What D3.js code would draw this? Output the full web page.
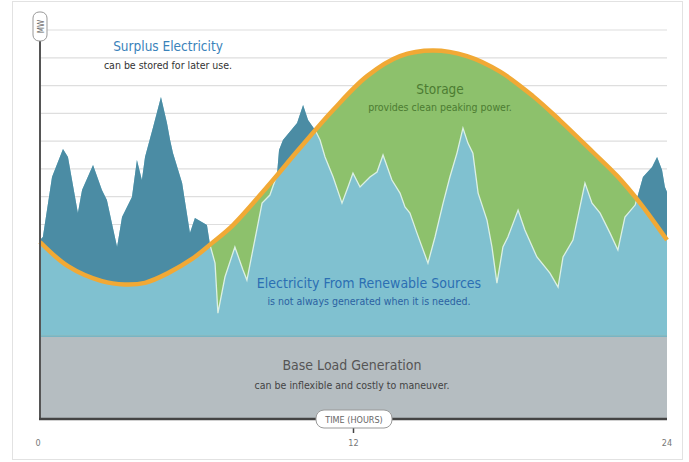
<!DOCTYPE html>
<html lang="en">
<head>
<meta charset="UTF-8">
<title>Renewables, Storage and Demand</title>
<style>
  * { margin: 0; padding: 0; }
  body { background: #fff; width: 689px; height: 462px; overflow: hidden; }
  svg { display: block; font-family: "DejaVu Sans Condensed", "DejaVu Sans", sans-serif; }
</style>
</head>
<body>
<svg id="chart" width="689" height="462"></svg>
<script src="https://d3js.org/d3.v7.min.js"></script>
<script>
// Hours across the day
const xTicks = [0, 12, 24];
const gridMW = [30, 40, 50, 60, 70, 80, 90, 100, 110, 120, 130, 140];
const baseMW = 30;

// Demand (orange curve)
const demandHours = [0, 1.07, 2.37, 3.25, 4.02, 4.9, 5.82, 6.58, 7.39, 8.69, 9.95, 11.22, 12.52, 13.78, 15.04, 16.34, 17.61, 18.87, 19.9, 21.17, 22.09, 22.97, 24];
const demandMW = [63.7, 55.0, 49.6, 48.4, 49.0, 52.5, 57.6, 63.3, 69.8, 83.5, 97.5, 111.2, 123.4, 130.6, 132.6, 130.6, 125.0, 116.2, 107.5, 96.0, 87.5, 77.7, 64.4];

// Renewable generation
const renewHours = [0, 0.11, 0.46, 0.88, 1.07, 1.45, 1.61, 2.03, 2.37, 2.56, 2.95, 3.14, 3.52, 3.71, 3.9, 4.02, 4.33, 4.63, 4.86, 4.98, 5.09, 5.44, 5.74, 5.93, 6.39, 6.51, 6.7, 6.81, 7.08, 7.46, 7.77, 7.92, 8.5, 8.8, 9.07, 9.15, 9.3, 9.84, 10.07, 10.26, 10.53, 10.72, 10.91, 11.22, 11.56, 11.79, 11.98, 12.25, 12.63, 12.9, 13.13, 13.47, 13.78, 13.97, 14.16, 14.43, 14.85, 15.12, 15.43, 15.69, 15.96, 16.19, 16.38, 16.57, 16.77, 17.11, 17.3, 17.49, 17.72, 17.91, 18.3, 18.56, 19.02, 19.52, 19.83, 20.02, 20.4, 20.86, 21.13, 21.44, 21.82, 22.12, 22.39, 22.78, 23.08, 23.43, 23.62, 23.81, 23.92, 24];
const renewMW = [64.4, 65.5, 87.1, 97.2, 94.3, 74.1, 82.4, 91.4, 82.4, 78.8, 61.9, 72.7, 79.9, 93.2, 86.0, 94.3, 105.1, 115.9, 106.5, 100.4, 95.7, 84.9, 66.9, 72.3, 69.8, 62.6, 56.1, 38.1, 51.1, 61.9, 53.6, 50.0, 77.7, 80.6, 87.8, 96.8, 100.4, 106.5, 113.0, 107.6, 104.0, 100.4, 94.3, 87.1, 77.7, 83.5, 88.5, 83.5, 87.1, 88.9, 95.0, 86.0, 81.3, 76.3, 74.1, 66.9, 56.1, 65.5, 77.7, 87.1, 95.7, 104.7, 99.3, 95.7, 81.3, 71.6, 61.9, 48.9, 61.9, 65.5, 75.2, 68.0, 58.3, 52.5, 47.5, 58.3, 64.4, 84.9, 77.7, 74.1, 66.9, 60.8, 72.7, 77.0, 87.1, 90.7, 94.3, 89.6, 83.5, 81.7];

const demand = demandHours.map((h, i) => ({ h, v: demandMW[i] }));
const renew = renewHours.map((h, i) => ({ h, v: renewMW[i] }));

const svg = d3.select('#chart');
const x = d3.scaleLinear().domain([0, 24]).range([40, 667]);
const y = d3.scaleLinear().domain([0, 140]).range([419, 30]);

// outer frame
svg.append('rect').attr('x', 12.5).attr('y', 1.5).attr('width', 670).attr('height', 458)
  .attr('fill', 'none').attr('stroke', '#e2e2e2');

// gridlines
svg.append('g').selectAll('line').data(gridMW).join('line')
  .attr('x1', x(0)).attr('x2', x(24))
  .attr('y1', d => y(d)).attr('y2', d => y(d))
  .attr('stroke', '#dedede').attr('stroke-width', 1.2);

const demandCurve = d3.curveCatmullRom.alpha(0.5);
const defs = svg.append('defs');

// region above the demand curve
defs.append('clipPath').attr('id', 'above').append('path')
  .attr('d', d3.area().curve(demandCurve).x(d => x(d.h)).y0(0).y1(d => y(d.v))(demand));
// region below the demand curve
defs.append('clipPath').attr('id', 'below').append('path')
  .attr('d', d3.area().curve(demandCurve).x(d => x(d.h)).y0(y(0)).y1(d => y(d.v))(demand));

// storage (green) up to demand
svg.append('path')
  .attr('d', d3.area().curve(demandCurve).x(d => x(d.h)).y0(y(baseMW)).y1(d => y(d.v))(demand))
  .attr('fill', '#8dc16c');

// renewables
const renewArea = d3.area().x(d => x(d.h)).y0(y(baseMW)).y1(d => y(d.v));
svg.append('path').attr('d', renewArea(renew)).attr('fill', '#80c1d0');
svg.append('path').attr('d', renewArea(renew)).attr('fill', '#4b8ca4')
  .attr('clip-path', 'url(#above)');
svg.append('path').attr('d', d3.line().x(d => x(d.h)).y(d => y(d.v))(renew))
  .attr('fill', 'none').attr('stroke', '#dcf0e4').attr('stroke-width', 1.3)
  .attr('clip-path', 'url(#below)');

// base load
svg.append('path')
  .attr('d', d3.area().x(d => x(d)).y0(y(0)).y1(y(baseMW))([0, 24]))
  .attr('fill', '#b5bdc1');
svg.append('line').attr('x1', x(0)).attr('x2', x(24)).attr('y1', y(baseMW) + 0.5).attr('y2', y(baseMW) + 0.5)
  .attr('stroke', '#79b4c3').attr('stroke-width', 1.5);

// demand line
svg.append('path').attr('d', d3.line().curve(demandCurve).x(d => x(d.h)).y(d => y(d.v))(demand))
  .attr('fill', 'none').attr('stroke', '#f1a935').attr('stroke-width', 4.5);

// axes
svg.append('line').attr('x1', x(0)).attr('x2', x(0)).attr('y1', 38).attr('y2', y(0))
  .attr('stroke', '#555').attr('stroke-width', 2);
svg.append('line').attr('x1', x(0) - 1).attr('x2', x(24)).attr('y1', y(0)).attr('y2', y(0))
  .attr('stroke', '#444').attr('stroke-width', 2.5);

// y label box
svg.append('rect').attr('x', 33).attr('y', 12).attr('width', 14).attr('height', 29).attr('rx', 6)
  .attr('fill', '#fff').attr('stroke', '#999');
svg.append('text').attr('transform', 'translate(43.5,26.5) rotate(-90)')
  .attr('text-anchor', 'middle').attr('font-size', 8).attr('fill', '#666').text('MW');

// x axis label box and ticks
svg.append('line').attr('x1', x(12)).attr('x2', x(12)).attr('y1', 426).attr('y2', 433)
  .attr('stroke', '#444').attr('stroke-width', 1.5);
svg.append('rect').attr('x', 316).attr('y', 410).attr('width', 76).attr('height', 18).attr('rx', 8)
  .attr('fill', '#fff').attr('stroke', '#999');
svg.append('text').attr('x', 354).attr('y', 423).attr('text-anchor', 'middle')
  .attr('font-size', 9).attr('fill', '#666').text('TIME (HOURS)');
svg.append('g').selectAll('text').data(xTicks).join('text')
  .attr('x', d => x(d) - (d === 0 ? 2 : 0)).attr('y', 446).attr('text-anchor', 'middle')
  .attr('font-size', 9).attr('fill', '#777').text(d => d);

// annotations
const notes = [
  { x: 168, y: 51, t: 'Surplus Electricity', size: 13.5, fill: '#3a82ba' },
  { x: 168, y: 69, t: 'can be stored for later use.', size: 10.5, fill: '#333' },
  { x: 440, y: 94, t: 'Storage', size: 13.5, fill: '#4c7c32' },
  { x: 440, y: 111, t: 'provides clean peaking power.', size: 10.5, fill: '#4c7c32' },
  { x: 369, y: 288, t: 'Electricity From Renewable Sources', size: 14, fill: '#2b6fb3' },
  { x: 369, y: 305, t: 'is not always generated when it is needed.', size: 10.5, fill: '#2b62a2' },
  { x: 352, y: 370, t: 'Base Load Generation', size: 14, fill: '#555' },
  { x: 352, y: 389, t: 'can be inflexible and costly to maneuver.', size: 10.5, fill: '#444' }
];
svg.append('g').selectAll('text').data(notes).join('text')
  .attr('x', d => d.x).attr('y', d => d.y).attr('text-anchor', 'middle')
  .attr('font-size', d => d.size).attr('fill', d => d.fill).text(d => d.t);
</script>
</body>
</html>
